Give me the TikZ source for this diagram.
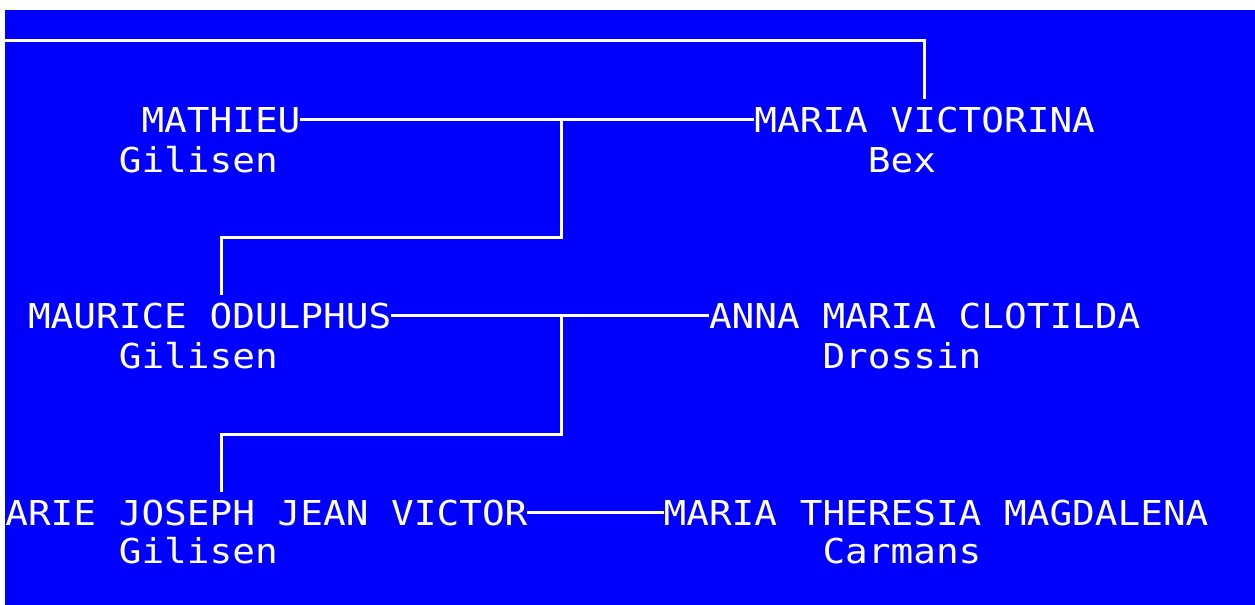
\documentclass[tikz,border=0pt]{standalone}
\usepackage{fontspec}
\newfontfamily\monof[FakeStretch=1.1]{DejaVu Sans Mono}
\definecolor{bgblue}{HTML}{0000FF}
\begin{document}
\begin{tikzpicture}[x=0.5pt,y=-0.5pt,
  person/.style={anchor=base west, inner xsep=0pt, inner ysep=4pt, outer sep=0pt,
    text height=12.5pt, text depth=0pt, text=white,
    font=\monof\fontsize{17.14pt}{20pt}\selectfont},
  conn/.style={draw=white, line width=1.5pt}]
\useasboundingbox (0,0) rectangle (1255,605);
\fill[white] (0,0) rectangle (1255,605);
\fill[bgblue] (5,10) rectangle (1255,605);
% generation 1
\node[person] (h1) at (141.5,132) {MATHIEU};
\node[person] (h1s) at (118.8,172) {Gilisen};
\node[person] (w1) at (754.4,132) {MARIA VICTORINA};
\node[person] (w1s) at (867.9,172) {Bex};
% generation 2
\node[person] (h2) at (28.0,328) {MAURICE ODULPHUS};
\node[person] (h2s) at (118.8,368) {Gilisen};
\node[person] (w2) at (709.0,328) {ANNA MARIA CLOTILDA};
\node[person] (w2s) at (822.5,368) {Drossin};
% generation 3
\node[person] (h3) at (5.3,525) {ARIE JOSEPH JEAN VICTOR};
\node[person] (h3s) at (118.8,563) {Gilisen};
\node[person] (w3) at (663.6,525) {MARIA THERESIA MAGDALENA};
\node[person] (w3s) at (822.5,563) {Carmans};
% connectors
\coordinate (top) at (5,40);
\draw[conn] (top) -| (w1.north);
\draw[conn] (h1.east) -- (w1.west);
\coordinate (j1) at (561.5,119.5);
\coordinate (k1) at (221,237);
\draw[conn] (j1) |- (k1) -- (k1 |- h2.north);
\draw[conn] (h2.east) -- (w2.west);
\coordinate (j2) at (561.5,315.5);
\coordinate (k2) at (221,434);
\draw[conn] (j2) |- (k2) -- (k2 |- h3.north);
\draw[conn] (h3.east) -- (w3.west);
\end{tikzpicture}
\end{document}
